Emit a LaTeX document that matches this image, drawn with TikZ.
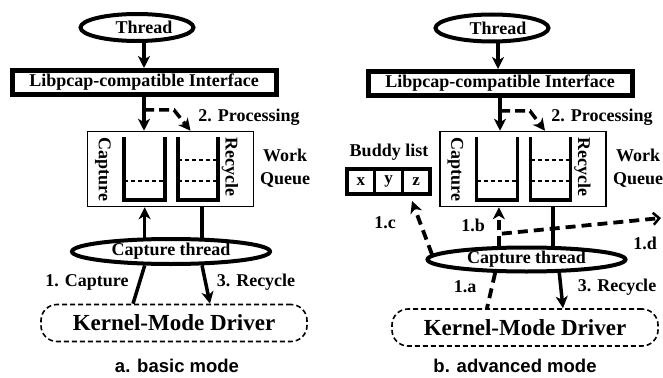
\documentclass[tikz,border=0pt]{standalone}
\usepackage{fontspec}
\setmainfont{Liberation Serif}
\newfontfamily\capfont{Liberation Sans}
\usetikzlibrary{arrows.meta,shapes.geometric,calc}
\newcommand\qbuckets{%
  \draw[bucket] (-46.5,-32) -- (-46.5,31) -- (-5.5,31) -- (-5.5,-32);
  \draw[bucket] (7.5,-32) -- (7.5,31) -- (47.5,31) -- (47.5,-32);
  \draw[lvl] (-46.5,12) -- (-5.5,12);
  \draw[lvl] (7.5,12) -- (47.5,12);
  \draw[lvl] (7.5,-9) -- (47.5,-9);
  \node[lbl, rotate=-90] at (-67.5,0.5) {Capture};
  \node[lbl, rotate=-90] at (59.5,-2) {Recycle};
}
\begin{document}
\begin{tikzpicture}[x=1pt,y=-1pt,
  lbl/.style={font=\fontsize{18}{23}\selectfont\bfseries, inner sep=0pt},
  big/.style={font=\fontsize{23}{25}\selectfont\bfseries, inner sep=0pt},
  capt/.style={font=\capfont\fontsize{18.5}{20}\selectfont\bfseries, inner sep=0pt},
  thr/.style={draw, ellipse, line width=4pt, inner sep=0pt, lbl},
  ifbox/.style={draw, line width=5pt, inner sep=0pt, minimum width=264pt, minimum height=24pt, lbl},
  qbox/.style={draw, line width=1.5pt, minimum width=166pt, minimum height=75pt, inner sep=0pt},
  drv/.style={draw, dash pattern=on 5pt off 3pt, line width=1.6pt, rounded corners=16pt, minimum width=266pt, minimum height=37pt, inner sep=0pt, big},
  cell/.style={draw, line width=3.5pt, minimum width=27.7pt, minimum height=25pt, inner sep=0pt, font=\fontsize{17}{20}\selectfont\bfseries},
  arr/.style={line width=3.5pt, -{Stealth[length=12pt,width=12pt,inset=3.5pt]}},
  darr/.style={arr, dash pattern=on 10pt off 5pt},
  tdash/.style={line width=3.8pt, dash pattern=on 10pt off 6pt},
  thk/.style={line width=3.5pt},
  bucket/.style={line width=3.5pt},
  lvl/.style={line width=1.4pt, dash pattern=on 4pt off 3pt},
]
\useasboundingbox (0,0) rectangle (663,377);

% ---------------- left: basic mode ----------------
\node[thr, minimum width=113pt, minimum height=27pt] (Lthr) at (137,27.5) {};
\node[lbl] (Lthrt) at (144,27.5) {Thread};
\node[ifbox] (Lif) at (144,82.5) {Libpcap-compatible Interface};
\node[qbox] (Lq) at (170.5,169) {};
\begin{scope}[shift={(Lq.center)}]\qbuckets\end{scope}
\node[lbl] (Lproc) at (249,117) {2. Processing};
\node[lbl, align=center] (Lwq) at (285,168.5) {Work\\Queue};
\node[thr, minimum width=198pt, minimum height=25pt] (Lct) at (171,251.5) {Capture thread};
\node[drv] (Ldrv) at (174,323) {Kernel-Mode Driver};
\node[lbl] (Lcap) at (87,282) {1. Capture};
\node[lbl] (Lrec) at (256,282) {3. Recycle};
\node[capt] (Lmode) at (177,366) {a. basic mode};

\draw[arr] (Lthrt |- Lthr.south) -- (Lthrt |- Lif.north);
\draw[arr] (Lif.south) -- (Lif.south |- Lq.north);
\draw[darr] ($(Lif.south)+(0,13)$) -- ++(30,0) -- ($(Lq.north)+(20,0)$);
\draw[arr] (Lct.152) -- (Lct.152 |- Lq.south);
\draw[thk] (Lct.24) -- (Lct.24 |- Lq.south);
\draw[thk] (Lct.208) -- ($(Ldrv.north)+(-41,0)$);
\draw[arr] (Lct.336) -- ($(Ldrv.north)+(36,0)$);

% ---------------- right: advanced mode ----------------
\node[thr, minimum width=113pt, minimum height=27pt] (Rthr) at (492,28) {};
\node[lbl] (Rthrt) at (498,28) {Thread};
\node[ifbox] (Rif) at (500,83.5) {Libpcap-compatible Interface};
\node[qbox] (Rq) at (523,169) {};
\begin{scope}[shift={(Rq.center)}]\qbuckets\end{scope}
\node[lbl] (Rproc) at (602,117) {2. Processing};
\node[lbl, align=center] (Rwq) at (638,168.5) {Work\\Queue};
\node[lbl] (Bl) at (389,152) {Buddy list};
\node[cell] (Bx) at (360.8,181.5) {x};
\node[cell] (By) at (388.5,181.5) {y};
\node[cell] (Bz) at (416.2,181.5) {z};
\node[thr, minimum width=198pt, minimum height=24pt] (Rct) at (526.5,259.5) {Capture thread};
\node[drv] (Rdrv) at (525,327.5) {Kernel-Mode Driver};
\node[lbl] (R1c) at (385,223) {1.c};
\node[lbl] (R1b) at (473,225) {1.b};
\node[lbl] (R1d) at (645,243) {1.d};
\node[lbl] (R1a) at (465,287) {1.a};
\node[lbl] (Rrec) at (617,287) {3. Recycle};
\node[capt] (Rmode) at (515,366) {b. advanced mode};
\coordinate (R1cend) at (412,201);
\coordinate (R1dend) at (661,218);

\draw[arr] (Rthrt |- Rthr.south) -- (Rthrt |- Rif.north);
\draw[arr] (Rif.south) -- (Rif.south |- Rq.north);
\draw[darr] ($(Rif.south)+(0,13)$) -- ++(30,0) -- ($(Rq.north)+(22,0)$);
\draw[tdash, -{Stealth[length=12pt,width=12pt,inset=3.5pt]}] (Rct.154) -- coordinate[pos=0.32] (Rbr) (Rct.154 |- Rq.south);
\draw[thk] (Rct.27) -- (Rct.27 |- Rq.south);
\draw[tdash, -{Straight Barb[length=6pt,width=12pt,line width=2.5pt]}] ($(Rbr)+(3,0)$) -- (R1dend);
\draw[tdash, -{Stealth[length=12pt,width=12pt,inset=3.5pt]}] (Rct.177) -- (R1cend);
\draw[tdash] (Rct.203) -- ($(Rdrv.north)+(-38,0)$);
\draw[arr] (Rct.338) -- ($(Rdrv.north)+(38,0)$);
\end{tikzpicture}
\end{document}
